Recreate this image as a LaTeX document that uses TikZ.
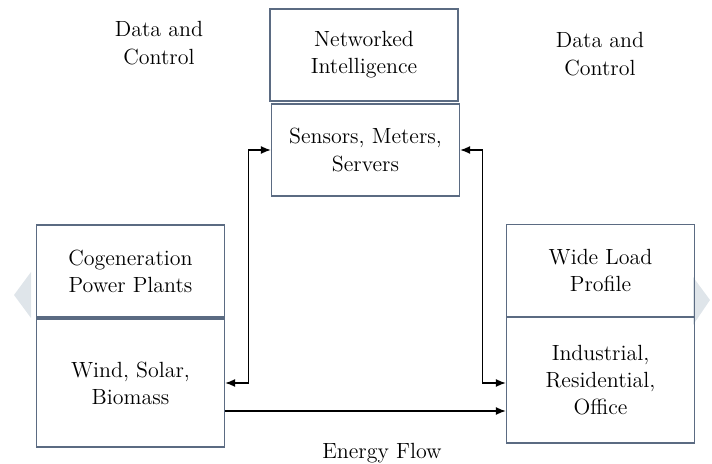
\documentclass[tikz,border=0pt]{standalone}
\usetikzlibrary{arrows.meta}
\definecolor{boxline}{HTML}{5B6B82}
\definecolor{wmark}{HTML}{DFE5EA}

\begin{document}
\begin{tikzpicture}[every node/.style={font=\fontsize{12.5}{15.5}\selectfont,align=center},
  blk/.style={rectangle,draw=boxline,line width=0.8pt,minimum width=3.76cm,inner sep=0pt},
  link/.style={draw,line width=0.7pt}]
\useasboundingbox (0,0) rectangle (14.24,-9.28);
\fill[wmark] (0.28,-5.9) -- (0.62,-5.44) -- (0.62,-6.36) -- cycle;
\fill[wmark] (14.2,-6.0) -- (13.86,-5.54) -- (13.86,-6.5) -- cycle;
\node(netint)[blk,minimum height=1.84cm] at (7.28,-1.1){Networked\\Intelligence};
\node(sensors)[blk,minimum height=1.84cm] at (7.31,-3.0){Sensors, Meters,\\Servers};
\node(cogen)[blk,minimum height=1.84cm] at (2.61,-5.42){Cogeneration\\Power Plants};
\node(wind)[blk,minimum height=2.56cm] at (2.61,-7.66){Wind, Solar,\\Biomass};
\node(wideload)[blk,minimum height=1.84cm] at (12.01,-5.41){Wide Load\\Profile};
\node(industrial)[blk,minimum height=2.52cm] at (12.01,-7.6){Industrial,\\Residential,\\Office};
\node(dcleft) at (3.18,-0.86){Data and\\Control};
\node(dcright) at (12.0,-1.08){Data and\\Control};
\node(eflow) at (7.64,-9.06){Energy Flow};
\path[link,{Latex[length=2mm,width=1.6mm]}-{Latex[length=2mm,width=1.6mm]}] (wind.east) -- ++(0.46,0) |- (sensors.west);
\path[link,{Latex[length=2mm,width=1.6mm]}-{Latex[length=2mm,width=1.6mm]}] ([yshift=-0.06cm]industrial.west) -- ++(-0.46,0) |- (sensors.east);
\path[link,-{Latex[length=2mm,width=1.6mm]}] ([yshift=-0.56cm]wind.east) -- ([yshift=-0.56cm]wind.east -| industrial.west);
\end{tikzpicture}
\end{document}
